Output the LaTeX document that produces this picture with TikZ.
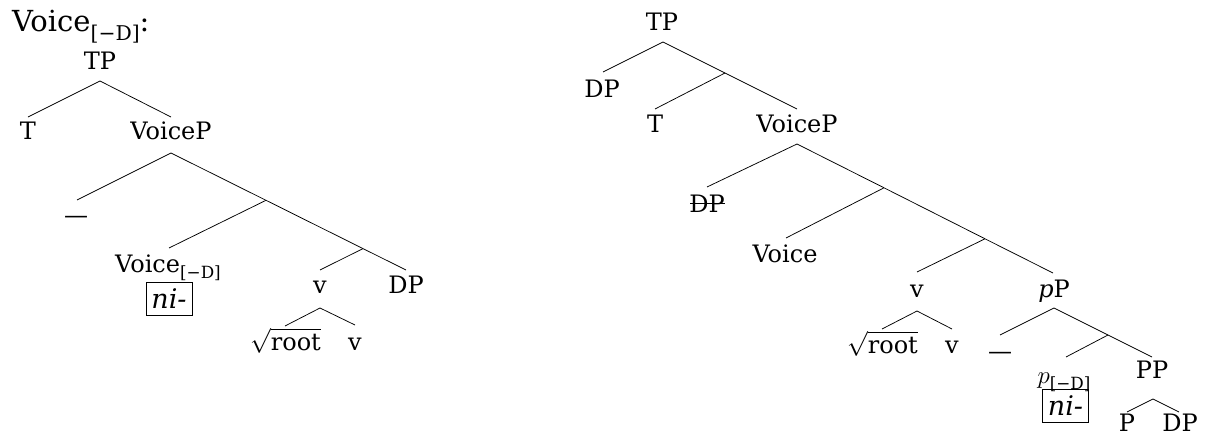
\documentclass[tikz,border=0pt]{standalone}
\usepackage{fontspec}
\setmainfont{DejaVu Serif}
\newcommand\treefont{\fontsize{24}{28}\selectfont}
\newcommand\titlefont{\fontsize{29}{34}\selectfont}
\newcommand\boxfont{\fontsize{27}{30}\selectfont\itshape}
\newcommand\feat[1]{\raisebox{-0.28em}{\fontsize{0.7em}{1em}\selectfont #1}}
\begin{document}
\begin{tikzpicture}[x=1pt,y=-1pt,
  lbl/.style={anchor=base, inner sep=0pt, font=\treefont},
  branch/.style={line width=0.75pt},
  boxed/.style={draw, line width=0.6pt, inner sep=0pt, minimum width=46pt, minimum height=33pt, font=\boxfont}]
\useasboundingbox (0,0) rectangle (1206,436);

% ---------- title ----------
\node[anchor=base west, inner sep=0pt, font=\titlefont] (title) at (12,32) {Voice\feat{[−D]}:};

% ---------- left tree ----------
\node[lbl] (lTP) at (100,69) {TP};
\node[lbl] (lT) at (28,139) {T};
\node[lbl] (lVoiceP) at (171,139) {VoiceP};
\node[lbl] (ldash) at (76,223) {—};
\node[lbl] (lVoice) at (168,272) {Voice\feat{[−D]}};
\node[boxed] (lni) at (169,298.5) {ni-};
\node[lbl] (lv) at (320,293) {v};
\node[lbl] (lDP) at (406,293) {DP};
\node[lbl] (lroot) at (285.5,350) {$\sqrt{\mbox{root}}$};
\node[lbl] (lv2) at (355,350) {v};

\coordinate (la1) at (100,81);
\coordinate (lT-t) at (28,117);
\coordinate (lVoiceP-t) at (171,117);
\coordinate (la2) at (171,153);
\coordinate (ldash-t) at (77,200);
\coordinate (lb2) at (266,200.3);
\coordinate (lVoice-t) at (169,248);
\coordinate (lb3) at (363,248.6);
\coordinate (lv-t) at (320,270);
\coordinate (lDP-t) at (406,270);
\coordinate (la3) at (320,308);
\coordinate (lroot-t) at (285,326);
\coordinate (lv2-t) at (355,325);

\draw[branch] (lT-t) -- (la1) -- (lVoiceP-t);
\draw[branch] (ldash-t) -- (la2) -- (lb2);
\draw[branch] (lb2) -- (lb3);
\draw[branch] (lb3) -- (lDP-t);
\draw[branch] (lVoice-t) -- (lb2);
\draw[branch] (lv-t) -- (lb3);
\draw[branch] (lroot-t) -- (la3) -- (lv2-t);

% ---------- right tree ----------
\node[lbl] (rTP) at (662,31) {TP};
\node[lbl] (rDP) at (602,97) {DP};
\node[lbl] (rT) at (655,132) {T};
\node[lbl] (rVoiceP) at (797,132) {VoiceP};
\node[lbl] (rDPs) at (707,212) {DP};
\node[lbl] (rVoice) at (785,262) {Voice};
\node[lbl] (rv) at (917,297) {v};
\node[lbl] (rpP) at (1054,297) {\textit{p}P};
\node[lbl] (rroot) at (882.5,353) {$\sqrt{\mbox{root}}$};
\node[lbl] (rv2) at (952,353) {v};
\node[lbl] (rdash) at (1000,359) {—};
\node[lbl] (rp) at (1064,383) {$p$\feat{[−D]}};
\node[boxed] (rni) at (1065.5,406) {ni-};
\node[lbl] (rPP) at (1152,378) {PP};
\node[lbl] (rP) at (1127,431) {P};
\node[lbl] (rDP2) at (1180,431) {DP};

\coordinate (rs1) at (690,203);
\coordinate (rs2) at (725,203);
\draw[line width=0.75pt] (rs1) -- (rs2);

\coordinate (ra1) at (663,42);
\coordinate (rDP-t) at (603,72);
\coordinate (rb1) at (725,73);
\coordinate (rT-t) at (655,109);
\coordinate (rVoiceP-t) at (797,109);
\coordinate (ra2) at (797,144);
\coordinate (rDPs-t) at (707,187);
\coordinate (rb2) at (884,187.8);
\coordinate (rVoice-t) at (786,238);
\coordinate (rb3) at (985,238.8);
\coordinate (rv-t) at (917,272);
\coordinate (rpP-t) at (1053,273);
\coordinate (ra3) at (917,311);
\coordinate (rroot-t) at (882,329);
\coordinate (rv2-t) at (952,329);
\coordinate (ra4) at (1054,308);
\coordinate (rdash-t) at (1000,335);
\coordinate (rb4) at (1108,335);
\coordinate (rp-t) at (1066,357);
\coordinate (rPP-t) at (1152,357);
\coordinate (ra5) at (1153,399);
\coordinate (rP-t) at (1127,412);
\coordinate (rDP2-t) at (1179,412);

\draw[branch] (rDP-t) -- (ra1) -- (rb1) -- (rVoiceP-t);
\draw[branch] (rT-t) -- (rb1);
\draw[branch] (rDPs-t) -- (ra2) -- (rb2) -- (rb3) -- (rpP-t);
\draw[branch] (rVoice-t) -- (rb2);
\draw[branch] (rv-t) -- (rb3);
\draw[branch] (rroot-t) -- (ra3) -- (rv2-t);
\draw[branch] (rdash-t) -- (ra4) -- (rb4) -- (rPP-t);
\draw[branch] (rp-t) -- (rb4);
\draw[branch] (rP-t) -- (ra5) -- (rDP2-t);
\end{tikzpicture}
\end{document}
